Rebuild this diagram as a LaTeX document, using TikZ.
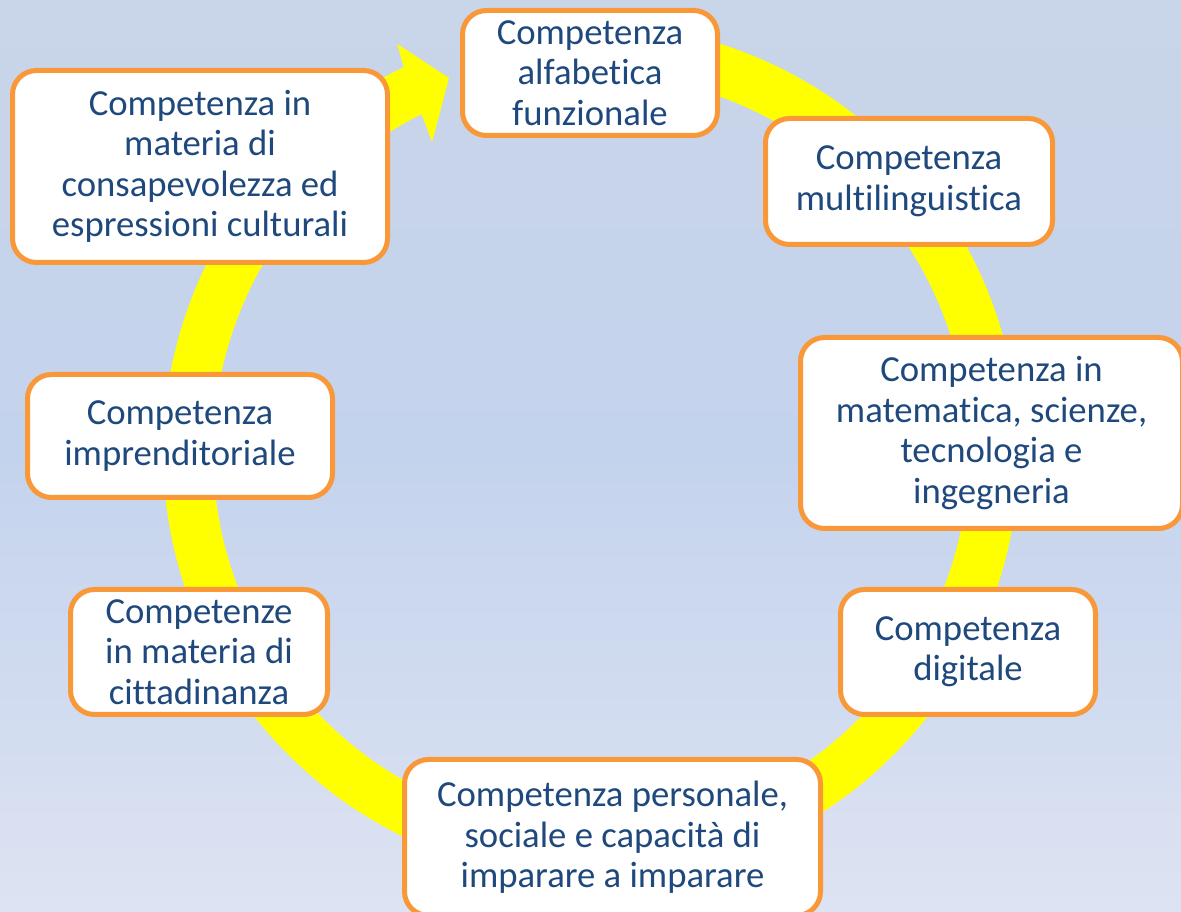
\documentclass[tikz,border=0pt]{standalone}
\usepackage{fontspec}
\setmainfont{Carlito}[Ligatures={NoCommon,NoRare}]
\usetikzlibrary{calc}
\definecolor{bgtop}{RGB}{201,213,232}
\definecolor{bgmid}{RGB}{196,211,237}
\definecolor{bgbot}{RGB}{221,227,242}
\definecolor{ringyellow}{RGB}{255,255,0}
\definecolor{boxorange}{RGB}{248,152,56}
\definecolor{txtblue}{RGB}{31,73,125}
\begin{document}
\begin{tikzpicture}[x=1pt,y=1pt,
  cbox/.style={draw=boxorange, line width=5pt, fill=white, rounded corners=24pt,
    inner sep=0pt, align=center, text=txtblue,
    font=\fontsize{36.7}{40.5}\selectfont},
  ring/.style={draw=ringyellow, line width=50pt},
  head/.style={fill=ringyellow}]
\useasboundingbox (0,0) rectangle (1181,912);
\clip (0,0) rectangle (1181,912);
\shade[top color=bgtop, bottom color=bgbot, middle color=bgmid] (0,0) rectangle (1181,912);
\coordinate (C) at (591,460);
\draw[ring] ($(C)+(100:403)$) arc[start angle=100, end angle=-243, radius=403];
\fill[head] ($(C)+(115.96:428)$) -- ($(C)+(115.4:451.8)$) -- ($(C)+(110.8:400)$)
  -- ($(C)+(117.15:348.4)$) -- ($(C)+(116.63:378)$) -- ($(C)+(117.3:378)$)
  -- ($(C)+(117.3:428)$) -- cycle;
\node[cbox, minimum width=255, minimum height=125] (alf) at (590,839)
  {Competenza\\alfabetica\\funzionale};
\node[cbox, minimum width=287, minimum height=126] (mul) at (909,730.5)
  {Competenza\\multilinguistica};
\node[cbox, minimum width=382, minimum height=191] (mat) at (991.5,479)
  {Competenza in\\matematica, scienze,\\tecnologia e\\ingegneria};
\node[cbox, minimum width=255, minimum height=125] (dig) at (968,260)
  {Competenza\\digitale};
\node[cbox, minimum width=416, minimum height=156] (per) at (612.5,74.5)
  {Competenza personale,\\sociale e capacità di\\imparare a imparare};
\node[cbox, minimum width=257, minimum height=125] (cit) at (199,260)
  {Competenze\\in materia di\\cittadinanza};
\node[cbox, minimum width=305, minimum height=123] (imp) at (180,476)
  {Competenza\\imprenditoriale};
\node[cbox, minimum width=375, minimum height=192] (cul) at (200,745.5)
  {Competenza in\\materia di\\consapevolezza ed\\espressioni culturali};
\end{tikzpicture}
\end{document}
